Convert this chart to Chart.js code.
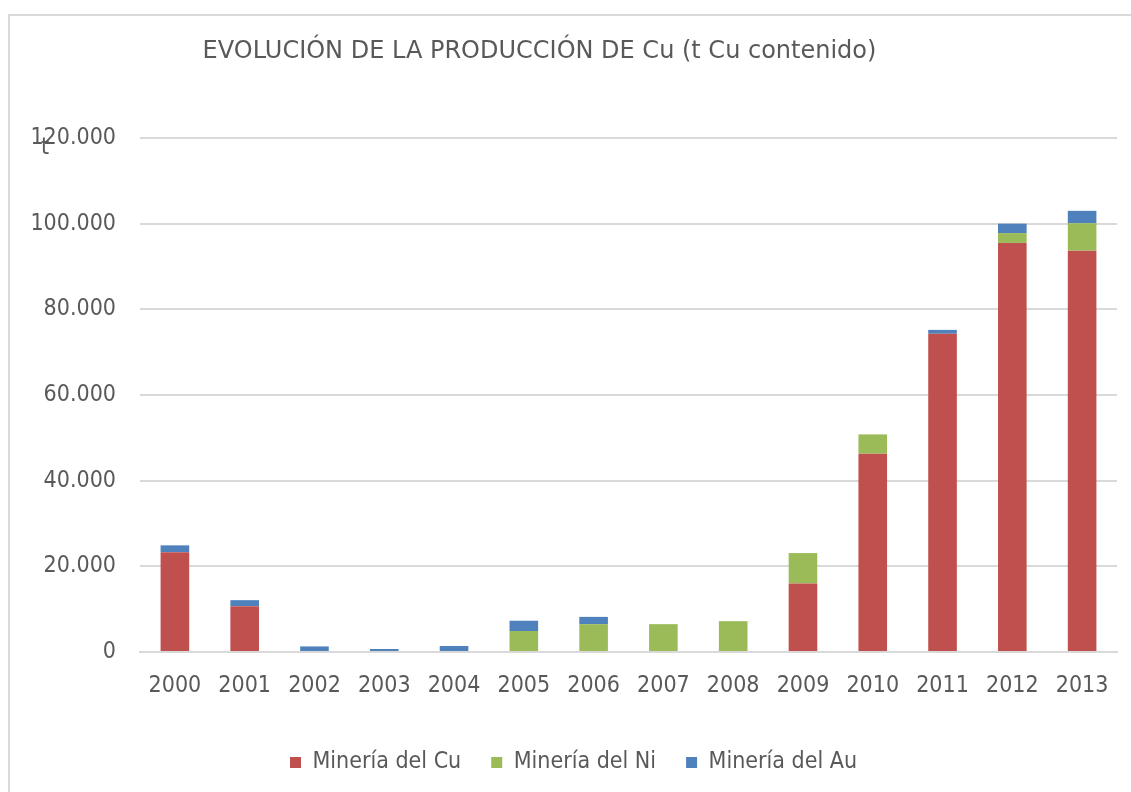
<!DOCTYPE html>
<html>
<head>
<meta charset="utf-8">
<script src="https://cdn.jsdelivr.net/npm/chart.js@4/dist/chart.umd.min.js"></script>
<style>
  body { margin: 0; background: #fff; overflow: hidden; }
  #frame { position: absolute; left: 8px; top: 14px; width: 1140px; height: 800px; border: 2px solid #d9d9d9; }
  #chart { position: absolute; left: 0; top: 0; }
</style>
</head>
<body>
<div id="frame"></div>
<canvas id="chart" width="1131" height="792"></canvas>
<script>
// years on the x axis
const years = ['2000', '2001', '2002', '2003', '2004', '2005', '2006', '2007', '2008', '2009', '2010', '2011', '2012', '2013'];

// t Cu contenido
const cuMining = [23300, 10700, 0, 0, 0, 0, 0, 0, 0, 16000, 46300, 74300, 95500, 93700];
const niMining = [0, 0, 0, 0, 0, 4900, 6500, 6500, 7200, 7100, 4500, 0, 2300, 6400];
const auMining = [1600, 1400, 1300, 700, 1400, 2400, 1700, 0, 0, 0, 0, 900, 2200, 2900];

const yMax = 120000;
const yStep = 20000;

const titleText = 'EVOLUCIÓN DE LA PRODUCCIÓN DE Cu (t Cu contenido)';

const fontFamily = '"DejaVu Sans Condensed", "DejaVu Sans", sans-serif';
const textColor = '#595959';
const gridColor = '#d9d9d9';

// format 120000 -> 120.000
function thousands(v) {
    return String(v).replace(/\B(?=(\d{3})+(?!\d))/g, '.');
}

// title sits a bit left of centre in the original, and the "t" unit is upright
const extraText = {
    id: 'extraText',
    afterDraw(chart) {
        const c = chart.ctx;
        c.save();
        c.fillStyle = textColor;
        c.textAlign = 'center';
        c.textBaseline = 'middle';
        c.font = '24px "DejaVu Sans", sans-serif';
        c.fillText(titleText, chart.width / 2 - 26, 52);
        c.font = '23px ' + fontFamily;
        c.fillText('t', chart.chartArea.left - 95, chart.chartArea.top + 10);
        c.restore();
    }
};

const ctx = document.getElementById('chart').getContext('2d');

new Chart(ctx, {
    type: 'bar',
    data: {
        labels: years,
        datasets: [
            { label: 'Minería del Cu', data: cuMining, backgroundColor: '#C0504D' },
            { label: 'Minería del Ni', data: niMining, backgroundColor: '#9BBB59' },
            { label: 'Minería del Au', data: auMining, backgroundColor: '#4F81BD' }
        ]
    },
    options: {
        responsive: false,
        animation: false,
        layout: { padding: { left: 30, right: 14, top: 138, bottom: 8 } },
        datasets: {
            bar: { categoryPercentage: 1, barPercentage: 0.41 }
        },
        scales: {
            x: {
                stacked: true,
                grid: { display: false },
                border: { color: gridColor, width: 2 },
                ticks: { color: textColor, font: { family: fontFamily, size: 23 }, padding: 12 },
                afterFit: s => { s.height = 69; }
            },
            y: {
                stacked: true,
                min: 0,
                max: yMax,
                border: { display: false },
                grid: { color: gridColor, lineWidth: 2, drawTicks: false },
                ticks: {
                    stepSize: yStep,
                    color: textColor,
                    padding: 24,
                    font: { family: fontFamily, size: 23 },
                    callback: v => thousands(v)
                },
                afterFit: s => { s.width = 110; }
            }
        },
        plugins: {
            title: { display: false },
            legend: {
                position: 'bottom',
                labels: {
                    color: textColor,
                    font: { family: fontFamily, size: 23 },
                    boxWidth: 11,
                    boxHeight: 11,
                    padding: 30
                }
            },
            tooltip: { enabled: false }
        }
    },
    plugins: [extraText]
});
</script>
</body>
</html>
